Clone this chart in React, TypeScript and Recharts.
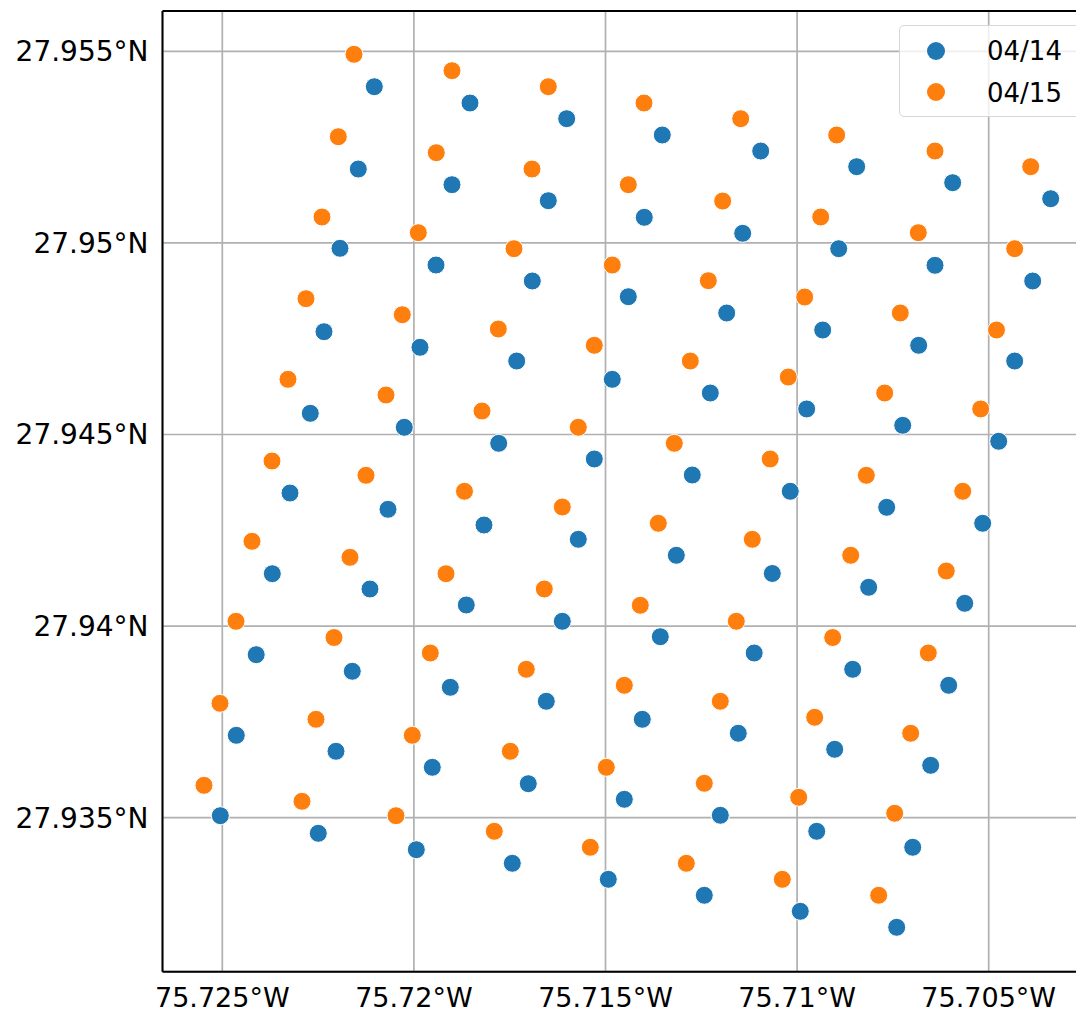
import React from 'react';
import { ScatterChart, Scatter, XAxis, YAxis, CartesianGrid, Legend, ReferenceLine } from 'recharts';

// 04/14 positions (longitude, latitude)
const lon0414 = [
  -75.721033, -75.718536, -75.716013, -75.713518, -75.71095, -75.708445, -75.70594, -75.703382,
  -75.721451, -75.719006, -75.716493, -75.713988, -75.71142, -75.708914, -75.706401, -75.703852,
  -75.721929, -75.719423, -75.71691, -75.714405, -75.711837, -75.709332, -75.706827, -75.704322,
  -75.722346, -75.719841, -75.717317, -75.714823, -75.712265, -75.70975, -75.707244, -75.704739,
  -75.722704, -75.720251, -75.717787, -75.715292, -75.712735, -75.710178, -75.707662, -75.705157,
  -75.723233, -75.720676, -75.718171, -75.71571, -75.713152, -75.710647, -75.708132, -75.705626,
  -75.723695, -75.721146, -75.718633, -75.716127, -75.71357, -75.71112, -75.708549, -75.706044,
  -75.724115, -75.721608, -75.71905, -75.716545, -75.71404, -75.711535, -75.709019, -75.706514,
  -75.724635, -75.722033, -75.71952, -75.717015, -75.714509, -75.712004, -75.709488, -75.706983,
  -75.725052, -75.722495, -75.719937, -75.717432, -75.714927, -75.712422, -75.709917, -75.707401,
];
const lat0414 = [
  27.954076, 27.953651, 27.953241, 27.952816, 27.952398, 27.951989, 27.951571, 27.951153,
  27.951928, 27.951519, 27.951101, 27.950668, 27.950251, 27.949849, 27.949416, 27.949006,
  27.949859, 27.949423, 27.949006, 27.948596, 27.948171, 27.947727, 27.947328, 27.946918,
  27.947682, 27.947276, 27.946918, 27.94644, 27.946083, 27.945667, 27.94524, 27.944823,
  27.945553, 27.945188, 27.94477, 27.944361, 27.943943, 27.943518, 27.9431, 27.942683,
  27.943473, 27.943048, 27.942638, 27.942265, 27.941848, 27.941373, 27.941013, 27.940595,
  27.941367, 27.940968, 27.940551, 27.940125, 27.939723, 27.939298, 27.938873, 27.938455,
  27.939254, 27.938821, 27.938403, 27.938038, 27.937568, 27.937203, 27.936785, 27.936367,
  27.93715, 27.936733, 27.936315, 27.935887, 27.93548, 27.935063, 27.934645, 27.934228,
  27.935052, 27.934593, 27.934165, 27.93381, 27.933392, 27.932975, 27.932557, 27.93214,
];

// 04/15 positions (longitude, latitude)
const lon0415 = [
  -75.721563, -75.719006, -75.716493, -75.713995, -75.711472, -75.708967, -75.706401, -75.703904,
  -75.721973, -75.719416, -75.716918, -75.714405, -75.711942, -75.709384, -75.706837, -75.704322,
  -75.722398, -75.719885, -75.717388, -75.714823, -75.712317, -75.709802, -75.707307, -75.704797,
  -75.722816, -75.720303, -75.717797, -75.715292, -75.712787, -75.71023, -75.707714, -75.705209,
  -75.723286, -75.720728, -75.718223, -75.71571, -75.713205, -75.710702, -75.708194, -75.705678,
  -75.723703, -75.72125, -75.71868, -75.716127, -75.713622, -75.711169, -75.708601, -75.706107,
  -75.724225, -75.721668, -75.719162, -75.716597, -75.714092, -75.711587, -75.709071, -75.706576,
  -75.724642, -75.722085, -75.719572, -75.717067, -75.714509, -75.712004, -75.709541, -75.707036,
  -75.72506, -75.722555, -75.720042, -75.717484, -75.714979, -75.712422, -75.709958, -75.707453,
  -75.725478, -75.72292, -75.720467, -75.717902, -75.715397, -75.712891, -75.710386, -75.707871,
];
const lat0415 = [
  27.954922, 27.954494, 27.954076, 27.953651, 27.953241, 27.952816, 27.952398, 27.951989,
  27.952771, 27.952354, 27.951928, 27.951519, 27.951093, 27.950676, 27.950266, 27.949849,
  27.950676, 27.950266, 27.949849, 27.949423, 27.949014, 27.948588, 27.948171, 27.947727,
  27.948544, 27.948126, 27.947753, 27.947328, 27.946918, 27.9465, 27.946083, 27.945667,
  27.94644, 27.946031, 27.945613, 27.945188, 27.94477, 27.944361, 27.943935, 27.943518,
  27.944308, 27.943935, 27.943518, 27.943108, 27.942683, 27.942265, 27.941848, 27.941438,
  27.942213, 27.941795, 27.941367, 27.940968, 27.940543, 27.940125, 27.939702, 27.939298,
  27.940125, 27.939702, 27.939298, 27.938873, 27.938455, 27.938038, 27.93762, 27.937203,
  27.937985, 27.937568, 27.93715, 27.936733, 27.936315, 27.935898, 27.935532, 27.935115,
  27.935845, 27.935428, 27.935052, 27.934645, 27.934228, 27.93381, 27.933392, 27.932975,
];

const seriesNames = ['04/14', '04/15'];
const seriesColors = ['#1f77b4', '#ff7f0e'];

const xTicks = [-75.725, -75.72, -75.715, -75.71, -75.705];
const xTickLabels = ['75.725°W', '75.72°W', '75.715°W', '75.71°W', '75.705°W'];
const yTicks = [27.935, 27.94, 27.945, 27.95, 27.955];
const yTickLabels = ['27.935°N', '27.94°N', '27.945°N', '27.95°N', '27.955°N'];

const xDomain = [-75.7265605, -75.7020955];
const yDomain = [27.930981, 27.956052];

const data0414 = lon0414.map((lon, i) => ({ lon, lat: lat0414[i] }));
const data0415 = lon0415.map((lon, i) => ({ lon, lat: lat0415[i] }));

const FONT = 'DejaVu Sans';

const makeDot = (color: string) => (props: any) => {
  if (props.cx == null || props.cy == null) return <g />;
  return <circle cx={props.cx} cy={props.cy} r={9} fill={color} stroke="#ffffff" strokeWidth={1} />;
};

const renderLegend = (props: any) => {
  const payload = props.payload || [];
  return (
    <div
      style={{
        position: 'relative',
        width: 190,
        height: 92,
        boxSizing: 'border-box',
        border: '1.5px solid #d6d6d6',
        borderRadius: 5,
        background: 'rgba(255,255,255,0.8)',
        fontFamily: FONT,
        fontSize: 26,
        color: '#000',
      }}
    >
      {payload.map((p: any, i: number) => (
        <React.Fragment key={i}>
          <svg
            width={20}
            height={20}
            style={{ position: 'absolute', left: 26.2, top: 14.5 + i * 41.7 }}
          >
            <circle cx={10} cy={10} r={9} fill={p.color || seriesColors[i]} />
          </svg>
          <span
            style={{
              position: 'absolute',
              left: 87,
              top: 11.9 + i * 41.7,
              lineHeight: '26px',
              whiteSpace: 'nowrap',
            }}
          >
            {p.value}
          </span>
        </React.Fragment>
      ))}
    </div>
  );
};

export default function App() {
  return (
    <div
      style={{
        position: 'fixed',
        left: 0,
        top: 0,
        width: 1076,
        height: 1012,
        overflow: 'hidden',
        background: '#fff',
      }}
    >
      <ScatterChart width={1100} height={1012} margin={{ top: 11, right: 0, left: 0, bottom: 0 }}>
        <CartesianGrid stroke="#b0b0b0" strokeWidth={1.7} />
        <XAxis
          type="number"
          dataKey="lon"
          domain={xDomain}
          allowDataOverflow
          ticks={xTicks}
          interval={0}
          height={40.3}
          tickSize={0}
          tickMargin={16}
          tickLine={false}
          axisLine={{ stroke: '#000', strokeWidth: 2 }}
          tick={{ fill: '#000', fontSize: 27, fontFamily: FONT }}
          tickFormatter={(v: number) => xTickLabels[xTicks.indexOf(v)] ?? String(v)}
        />
        <YAxis
          type="number"
          dataKey="lat"
          domain={yDomain}
          allowDataOverflow
          ticks={yTicks}
          interval={0}
          width={162.5}
          tickSize={0}
          tickMargin={14}
          tickLine={false}
          axisLine={{ stroke: '#000', strokeWidth: 2 }}
          tick={{ fill: '#000', fontSize: 28, fontFamily: FONT }}
          tickFormatter={(v: number) => yTickLabels[yTicks.indexOf(v)] ?? String(v)}
        />
        <ReferenceLine y={yDomain[1]} stroke="#000" strokeWidth={2} />
        <Scatter
          name={seriesNames[0]}
          data={data0414}
          fill={seriesColors[0]}
          shape={makeDot(seriesColors[0])}
          isAnimationActive={false}
        />
        <Scatter
          name={seriesNames[1]}
          data={data0415}
          fill={seriesColors[1]}
          shape={makeDot(seriesColors[1])}
          isAnimationActive={false}
        />
        <Legend
          layout="vertical"
          verticalAlign="middle"
          align="center"
          wrapperStyle={{ top: 25, left: 899, width: 190 }}
          content={renderLegend}
        />
      </ScatterChart>
    </div>
  );
}
